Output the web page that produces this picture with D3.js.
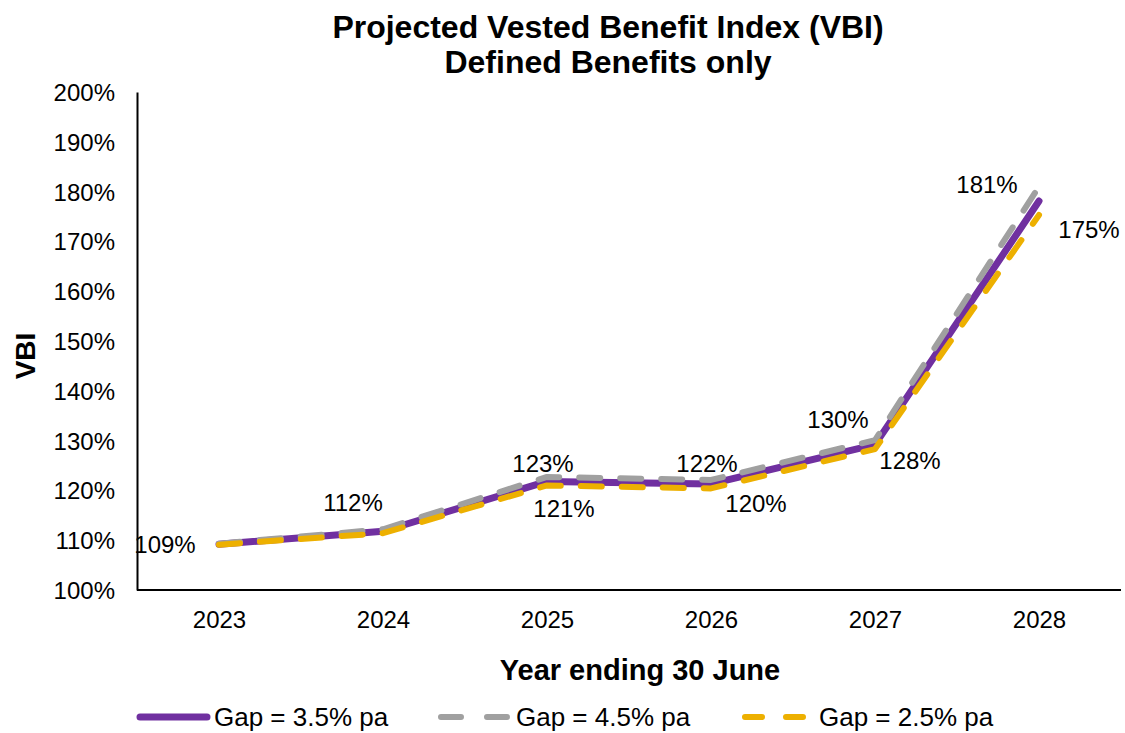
<!DOCTYPE html>
<html>
<head>
<meta charset="utf-8">
<script src="https://cdn.jsdelivr.net/npm/d3@7"></script>
<style>
    body { margin: 0; background: #fff; }
    text { font-family: "Liberation Sans", Arial, sans-serif; fill: #000; }
</style>
</head>
<body>
<div id="chart"></div>
<script>
// chart data
var years = ["2023", "2024", "2025", "2026", "2027", "2028"];
var gap35 = [109.2, 111.8, 121.8, 121.3, 129.2, 178.1];
var gap45 = [109.3, 112.2, 122.7, 122.1, 130.1, 181.0];
var gap25 = [109.1, 111.4, 121.0, 120.4, 128.3, 175.3];
var yTicks = [100, 110, 120, 130, 140, 150, 160, 170, 180, 190, 200];
var seriesNames = ["Gap = 3.5% pa", "Gap = 4.5% pa", "Gap = 2.5% pa"];

// which points carry a data label, and where the label sits relative to the point
var labels45 = [{i: 0, dx: -54, dy: 9}, {i: 1, dx: -30, dy: -18}, {i: 2, dx: -4, dy: -5},
                {i: 3, dx: -4, dy: -8}, {i: 4, dx: -37, dy: -12}, {i: 5, dx: -52, dy: 6}];
var labels25 = [{i: 2, dx: 17, dy: 32}, {i: 3, dx: 45, dy: 24},
                {i: 4, dx: 35, dy: 20}, {i: 5, dx: 50, dy: 23}];

var width = 1125, height = 733;
var plot = {left: 137, right: 1121, top: 92, bottom: 590};

var svg = d3.select("#chart").append("svg")
    .attr("width", width)
    .attr("height", height);

var xScale = d3.scalePoint().domain(years).range([plot.left, plot.right]).padding(0.5);
var yScale = d3.scaleLinear().domain([100, 200]).range([plot.bottom, plot.top]);

// title
var title = svg.append("text")
    .attr("text-anchor", "middle")
    .style("font-size", "32px")
    .style("font-weight", "bold");
title.append("tspan").attr("x", 608).attr("y", 38).text("Projected Vested Benefit Index (VBI)");
title.append("tspan").attr("x", 608).attr("y", 73).text("Defined Benefits only");

// axes
var yAxis = svg.append("g")
    .attr("transform", "translate(" + plot.left + ",0)")
    .call(d3.axisLeft(yScale).tickValues(yTicks).tickSize(0).tickPadding(22).tickFormat(function (d) { return d + "%"; }));
yAxis.select(".domain").attr("stroke", "#000").attr("stroke-width", 2);
yAxis.selectAll(".tick text").style("font-size", "24px").attr("dy", "0.35em").attr("fill", "#000");

var xAxis = svg.append("g")
    .attr("transform", "translate(0," + plot.bottom + ")")
    .call(d3.axisBottom(xScale).tickSize(0).tickPadding(21));
xAxis.select(".domain").attr("stroke", "#000").attr("stroke-width", 2)
    .attr("d", "M" + plot.left + ",0H" + plot.right);
xAxis.selectAll(".tick text").style("font-size", "24px").attr("dy", "0.71em").attr("fill", "#000");

svg.append("text")
    .attr("x", 640).attr("y", 680)
    .attr("text-anchor", "middle")
    .style("font-size", "29px").style("font-weight", "bold")
    .text("Year ending 30 June");

svg.append("text")
    .attr("transform", "translate(35,356) rotate(-90)")
    .attr("text-anchor", "middle")
    .style("font-size", "28px").style("font-weight", "bold")
    .text("VBI");

// lines
var line = d3.line()
    .x(function (d, i) { return xScale(years[i]); })
    .y(function (d) { return yScale(d); });

var series = [
    {values: gap35, colour: "#7030A0", w: 7, dash: null},
    {values: gap45, colour: "#A0A0A0", w: 6, dash: "21,20"},
    {values: gap25, colour: "#EDB000", w: 6, dash: "21,20"}
];

series.forEach(function (s) {
    svg.append("path")
        .datum(s.values)
        .attr("d", line)
        .attr("fill", "none")
        .attr("stroke", s.colour)
        .attr("stroke-width", s.w)
        .attr("stroke-linecap", "round")
        .attr("stroke-linejoin", "round")
        .attr("stroke-dasharray", s.dash);
});

// data labels
function drawLabels(values, list) {
    svg.selectAll(null)
        .data(list)
        .enter().append("text")
        .attr("x", function (d) { return xScale(years[d.i]) + d.dx; })
        .attr("y", function (d) { return yScale(values[d.i]) + d.dy; })
        .attr("text-anchor", "middle")
        .style("font-size", "24px")
        .text(function (d) { return Math.round(values[d.i]) + "%"; });
}
drawLabels(gap45, labels45);
drawLabels(gap25, labels25);

// legend
var legendY = 717;
var legendItems = [
    {x1: 140, x2: 207, tx: 214, dash: null},
    {x1: 441, x2: 507, tx: 516, dash: "20,26"},
    {x1: 745, x2: 804, tx: 819, dash: "17,24"}
];
legendItems.forEach(function (d, i) {
    svg.append("line")
        .attr("x1", d.x1).attr("x2", d.x2)
        .attr("y1", legendY).attr("y2", legendY)
        .attr("stroke", series[i].colour)
        .attr("stroke-width", series[i].w)
        .attr("stroke-linecap", "round")
        .attr("stroke-dasharray", d.dash);
    svg.append("text")
        .attr("x", d.tx).attr("y", legendY + 9)
        .style("font-size", "26px")
        .text(seriesNames[i]);
});
</script>
</body>
</html>
